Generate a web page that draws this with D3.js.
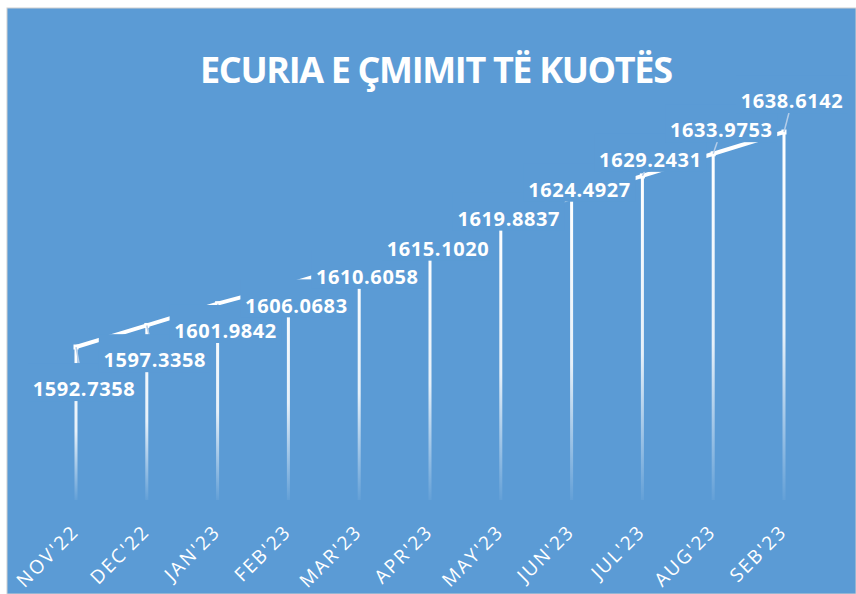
<!DOCTYPE html>
<html>
<head>
<meta charset="utf-8">
<script src="https://cdn.jsdelivr.net/npm/d3@7"></script>
<style>
  body { margin: 0; background: #fff; }
  svg { display: block; font-family: "Open Sans", sans-serif; }
</style>
</head>
<body>
<div id="chart"></div>
<script>
// Data
const months = ["NOV'22", "DEC'22", "JAN'23", "FEB'23", "MAR'23", "APR'23",
                "MAY'23", "JUN'23", "JUL'23", "AUG'23", "SEB'23"];
const prices = [1592.7358, 1597.3358, 1601.9842, 1606.0683, 1610.6058, 1615.1020,
                1619.8837, 1624.4927, 1629.2431, 1633.9753, 1638.6142];
const priceLabels = ["1592.7358", "1597.3358", "1601.9842", "1606.0683", "1610.6058", "1615.1020",
                     "1619.8837", "1624.4927", "1629.2431", "1633.9753", "1638.6142"];
const title = "ECURIA E ÇMIMIT TË KUOTËS";

const width = 856, height = 594;
const bg = "#5b9bd5";
const baseY = 500;

const data = months.map((m, i) => ({ month: m, value: prices[i], label: priceLabels[i] }));

const svg = d3.select("#chart").append("svg")
    .attr("width", width)
    .attr("height", height);

// chart area background
svg.append("rect")
    .attr("x", 7).attr("y", 8)
    .attr("width", width - 7).attr("height", height - 8)
    .attr("fill", bg)
    .attr("stroke", "#d0d0d0")
    .attr("stroke-width", 1);

// scales
const xScale = d3.scaleBand()
    .domain(months)
    .range([40.6, 819.4]);

const yScale = d3.scaleLinear()
    .domain([1580, 1660])
    .range([406.7, 31.8]);

// labels sit on a steeper plane (3d perspective of the original)
const labelY = d3.scaleLinear()
    .domain([1580, 1660])
    .range([469, -33.2]);

const cx = d => xScale(d.month) + xScale.bandwidth() / 2;

// gradient for the drop lines
const defs = svg.append("defs");
data.forEach((d, i) => {
    const g = defs.append("linearGradient")
        .attr("id", "drop" + i)
        .attr("gradientUnits", "userSpaceOnUse")
        .attr("x1", 0).attr("x2", 0)
        .attr("y1", yScale(d.value)).attr("y2", baseY);
    g.append("stop").attr("offset", "0%").attr("stop-color", "#fff").attr("stop-opacity", 1);
    g.append("stop").attr("offset", "55%").attr("stop-color", "#fff").attr("stop-opacity", 0.85);
    g.append("stop").attr("offset", "100%").attr("stop-color", "#fff").attr("stop-opacity", 0.05);
});

// vertical drop lines
svg.append("g").selectAll("rect")
    .data(data)
    .join("rect")
    .attr("x", d => cx(d) - 1.5)
    .attr("y", d => yScale(d.value))
    .attr("width", 3)
    .attr("height", d => baseY - yScale(d.value))
    .attr("fill", (d, i) => `url(#drop${i})`);

// ribbon line through the tops
const line = d3.line()
    .x(d => cx(d))
    .y(d => yScale(d.value));

svg.append("path")
    .datum(data)
    .attr("d", line)
    .attr("fill", "none")
    .attr("stroke", "#fff")
    .attr("stroke-width", 4);

// small point markers
svg.append("g").selectAll("rect")
    .data(data)
    .join("rect")
    .attr("x", d => cx(d) - 2.5)
    .attr("y", d => yScale(d.value) - 2.5)
    .attr("width", 5).attr("height", 5)
    .attr("fill", "#fff");

// leader lines from point to label
svg.append("g").selectAll("line")
    .data(data)
    .join("line")
    .attr("x1", d => cx(d))
    .attr("y1", d => yScale(d.value))
    .attr("x2", d => cx(d) + 8)
    .attr("y2", d => labelY(d.value))
    .attr("stroke", "#b4cde9")
    .attr("stroke-width", 1.5);

// data labels with opaque boxes (they hide parts of the ribbon, as in the original)
const labels = svg.append("g").selectAll("g")
    .data(data)
    .join("g")
    .attr("transform", d => `translate(${cx(d) + 8},${labelY(d.value)})`);

labels.append("rect")
    .attr("x", -56).attr("y", -26)
    .attr("width", 112).attr("height", 38)
    .attr("fill", bg);

labels.append("text")
    .attr("text-anchor", "middle")
    .attr("dy", "0.36em")
    .attr("fill", "#fff")
    .attr("font-size", 20)
    .attr("font-weight", 700)
    .attr("letter-spacing", 0.6)
    .text(d => d.label);

// category labels, rotated
svg.append("g").selectAll("text")
    .data(data)
    .join("text")
    .attr("transform", d => `translate(${cx(d) + 4},${533}) rotate(-45)`)
    .attr("text-anchor", "end")
    .attr("fill", "#fff")
    .attr("font-size", 19)
    .attr("letter-spacing", 2)
    .text(d => d.month);

// title
svg.append("text")
    .attr("x", 436.5)
    .attr("y", 83)
    .attr("text-anchor", "middle")
    .attr("fill", "#fff")
    .attr("font-size", 36)
    .attr("font-weight", 700)
    .attr("textLength", 473)
    .attr("lengthAdjust", "spacing")
    .text(title);
</script>
</body>
</html>
